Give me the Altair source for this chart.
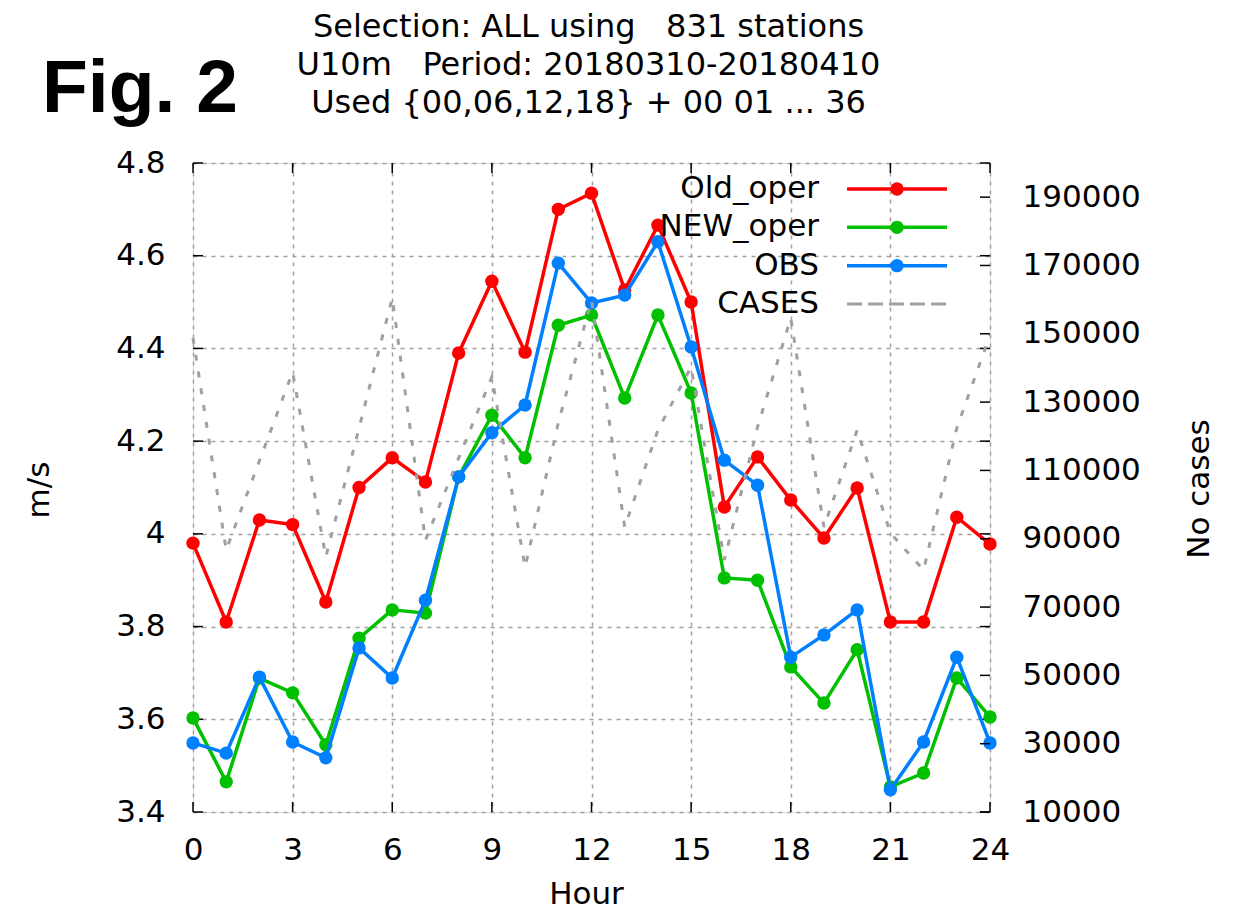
import altair as alt
import pandas as pd

# ---------------- data ----------------
hours = list(range(25))
old_oper = [3.98, 3.81, 4.03, 4.02, 3.853, 4.10, 4.164, 4.112, 4.39, 4.545, 4.392, 4.70, 4.735,
            4.526, 4.666, 4.50, 4.058, 4.166, 4.073, 3.991, 4.099, 3.81, 3.81, 4.036, 3.978]
new_oper = [3.603, 3.465, 3.689, 3.657, 3.545, 3.775, 3.836, 3.829, 4.123, 4.256, 4.164, 4.45, 4.472,
            4.293, 4.472, 4.304, 3.905, 3.90, 3.713, 3.635, 3.75, 3.454, 3.484, 3.689, 3.605]
obs = [3.549, 3.527, 3.691, 3.551, 3.517, 3.754, 3.689, 3.857, 4.123, 4.218, 4.278, 4.584, 4.498,
       4.515, 4.63, 4.403, 4.159, 4.105, 3.734, 3.782, 3.836, 3.448, 3.551, 3.734, 3.549]
cases = [148800, 86700, 112800, 138800, 84700, 122400, 160500, 89600, 113600, 137400, 81700, 123900, 159900,
         93400, 121800, 140300, 83800, 122700, 154600, 93400, 121800, 91700, 80800, 122400, 149600]

x_ticks = [0, 3, 6, 9, 12, 15, 18, 21, 24]
y_ticks = [3.4, 3.6, 3.8, 4.0, 4.2, 4.4, 4.6, 4.8]
y2_ticks = [10000, 30000, 50000, 70000, 90000, 110000, 130000, 150000, 170000, 190000]

title_lines = ["Selection: ALL using\u00a0\u00a0 831 stations",
               "U10m\u00a0\u00a0 Period: 20180310-20180410",
               "Used {00,06,12,18} + 00 01 ... 36"]
fig_label = "Fig. 2"
x_title = "Hour"
y_title = "m/s"
y2_title = "No cases"

series_names = ["Old_oper", "NEW_oper", "OBS", "CASES"]
series_colors = ["#ff0000", "#00c000", "#0080ff", "#a0a0a0"]

# ---------------- style ----------------
W, H = 797, 649
FONT = "DejaVu Sans"
FS = 31
GRID = "#a0a0a0"
LW = 3.5
PT = 180

df = pd.DataFrame({"hour": hours, "Old_oper": old_oper, "NEW_oper": new_oper,
                   "OBS": obs, "CASES": cases})

xscale = alt.Scale(domain=[0, 24], nice=False, zero=False)
yscale = alt.Scale(domain=[3.4, 4.8], nice=False, zero=False)
y2scale = alt.Scale(domain=[10000, 200000], nice=False, zero=False)

lab = dict(labelFont=FONT, labelFontSize=FS, labelColor="black", labelFlush=False,
           labelOverlap=False, ticks=False, tickSize=0, domain=False)

x_axis = alt.Axis(values=x_ticks, title=None, grid=True, gridDash=[4, 5], gridColor=GRID,
                  gridWidth=1.5, labelPadding=23, **lab)
y_axis = alt.Axis(values=y_ticks, title=None, grid=True, gridDash=[4, 5], gridColor=GRID,
                  gridWidth=1.5, labelPadding=28, format="~g", orient="left", **lab)
y2_axis = alt.Axis(values=y2_ticks, title=None, grid=False, labelPadding=32, format="d",
                   orient="right", **lab)

base = alt.Chart(df)
X = alt.X("hour:Q", scale=xscale, axis=x_axis)


def series_layer(col, color):
    return base.mark_line(
        color=color, strokeWidth=LW,
        point=alt.OverlayMarkDef(filled=True, size=PT, color=color, shape="circle", opacity=1),
    ).encode(x=X, y=alt.Y(f"{col}:Q", scale=yscale, axis=y_axis))


tick_style = dict(color="black", strokeWidth=1.5)
ytick_df = pd.DataFrame({"v": y_ticks})
xtick_df = pd.DataFrame({"h": x_ticks})
y2tick_df = pd.DataFrame({"v": y2_ticks})

left_ticks = alt.Chart(ytick_df).mark_rule(**tick_style).encode(
    y=alt.Y("v:Q", scale=yscale, axis=y_axis), x=alt.value(0), x2=alt.value(10))
left_ticks_mirror = alt.Chart(ytick_df).mark_rule(**tick_style).encode(
    y=alt.Y("v:Q", scale=yscale, axis=y_axis), x=alt.value(W - 10), x2=alt.value(W))
bottom_ticks = alt.Chart(xtick_df).mark_rule(**tick_style).encode(
    x=alt.X("h:Q", scale=xscale, axis=x_axis), y=alt.value(H - 10), y2=alt.value(H))
top_ticks = alt.Chart(xtick_df).mark_rule(**tick_style).encode(
    x=alt.X("h:Q", scale=xscale, axis=x_axis), y=alt.value(0), y2=alt.value(10))

left_group = alt.layer(
    left_ticks, left_ticks_mirror, bottom_ticks, top_ticks,
    series_layer("Old_oper", series_colors[0]),
    series_layer("NEW_oper", series_colors[1]),
    series_layer("OBS", series_colors[2]),
)

cases_line = base.mark_line(color=series_colors[3], strokeWidth=3, strokeDash=[6, 11]).encode(
    x=X, y=alt.Y("CASES:Q", scale=y2scale, axis=y2_axis))
right_ticks = alt.Chart(y2tick_df).mark_rule(**tick_style).encode(
    y=alt.Y("v:Q", scale=y2scale, axis=y2_axis), x=alt.value(W - 10), x2=alt.value(W))

right_group = alt.layer(right_ticks, cases_line)

# ---------------- legend (inside, top right) ----------------
legend_df = pd.DataFrame({"name": series_names, "color": series_colors,
                          "row": list(range(len(series_names)))})
row_scale = alt.Scale(domain=[0, 3], range=[26, 141])
Yrow = alt.Y("row:Q", scale=row_scale, axis=None)
leg_base = alt.Chart(legend_df)
leg_text = leg_base.mark_text(align="right", baseline="middle", font=FONT, fontSize=FS,
                              color="black").encode(x=alt.value(626), y=Yrow, text="name:N")
leg_solid = leg_base.transform_filter(alt.datum.name != "CASES").mark_rule(strokeWidth=LW).encode(
    x=alt.value(654), x2=alt.value(754), y=Yrow, color=alt.Color("color:N", scale=None))
leg_pts = leg_base.transform_filter(alt.datum.name != "CASES").mark_point(
    filled=True, size=PT, shape="circle", opacity=1).encode(
    x=alt.value(704), y=Yrow, color=alt.Color("color:N", scale=None))
leg_dash = leg_base.transform_filter(alt.datum.name == "CASES").mark_rule(
    strokeWidth=3, strokeDash=[15, 6]).encode(
    x=alt.value(654), x2=alt.value(754), y=Yrow, color=alt.Color("color:N", scale=None))
legend_group = alt.layer(leg_solid, leg_pts, leg_dash, leg_text)

# ---------------- texts ----------------
title_df = pd.DataFrame({"t": title_lines, "line": list(range(len(title_lines)))})
title_mark = alt.Chart(title_df).mark_text(
    align="center", baseline="middle", font=FONT, fontSize=FS + 1, color="black").encode(
    x=alt.value(W / 2 - 3),
    y=alt.Y("line:Q", scale=alt.Scale(domain=[0, 2], range=[-136, -60]), axis=None),
    text="t:N")


def text_at(txt, x, y, **kw):
    return alt.Chart(pd.DataFrame({"t": [txt]})).mark_text(**kw).encode(
        text="t:N", x=alt.value(x), y=alt.value(y))


fig_mark = text_at(fig_label, -151, -51, align="left", baseline="alphabetic",
                   font="Liberation Sans", fontSize=75, fontWeight="bold", color="black")
xt_mark = text_at(x_title, W / 2 - 5, 732, align="center", baseline="middle",
                  font=FONT, fontSize=FS, color="black")
yt_mark = text_at(y_title, -153, 327, align="center", baseline="middle",
                  font=FONT, fontSize=FS, color="black", angle=270)
y2t_mark = text_at(y2_title, 1007, 326, align="center", baseline="middle",
                   font=FONT, fontSize=FS, color="black", angle=270)

chart = alt.layer(
    left_group, right_group, legend_group, title_mark, fig_mark, xt_mark, yt_mark, y2t_mark
).resolve_scale(y="independent").properties(
    width=W, height=H,
    padding={"left": 193, "top": 163, "right": 249, "bottom": 104},
    autosize=alt.AutoSizeParams(type="none"),
).configure_view(stroke="black", strokeWidth=2).configure(background="white")

chart.save("out.html", embed_options={"renderer": "svg", "actions": False})
